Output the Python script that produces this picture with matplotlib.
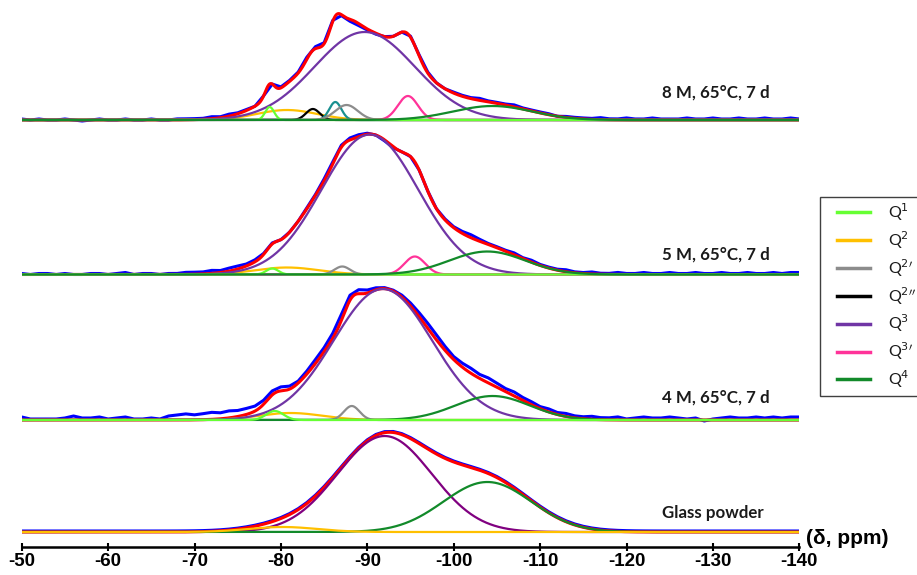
import numpy as np
import matplotlib
matplotlib.use("Agg")
import matplotlib.pyplot as plt
from matplotlib.lines import Line2D
from matplotlib.patches import Rectangle

# ---------------- data ----------------
ppm_ticks = [-50, -60, -70, -80, -90, -100, -110, -120, -130, -140]
panel_labels = ["8 M, 65°C, 7 d", "5 M, 65°C, 7 d", "4 M, 65°C, 7 d", "Glass powder"]

# Gaussian components: species, centre (ppm), height, width (sigma, ppm)
p8_species = ["Q2", "Q2pp", "Qt", "Q2p", "Q3", "Q3p", "Q1", "Q4"]
p8_center = [-80.7, -83.7, -86.3, -87.6, -89.7, -94.7, -78.7, -104.5]
p8_height = [10, 11, 18, 15, 88, 24, 13, 14]
p8_width = [3.5, 0.8, 0.7, 1.3, 5.8, 1.16, 0.52, 4.6]

p5_species = ["Q2", "Q2p", "Q3", "Q3p", "Q1", "Q4"]
p5_center = [-80.7, -87.1, -90.3, -95.5, -79.0, -103.9]
p5_height = [7, 8, 140, 18, 6, 23]
p5_width = [3.7, 0.9, 5.6, 1.2, 0.7, 4.4]

p4_species = ["Q2", "Q2p", "Q3", "Q4", "Q1"]
p4_center = [-81.1, -88.2, -91.8, -104.5, -79.3]
p4_height = [7, 14, 131, 24, 9]
p4_width = [3.7, 0.9, 5.7, 4.3, 1.0]

pg_species = ["Q3", "Q4", "Q2"]
pg_center = [-92.0, -103.9, -80.2]
pg_height = [96, 50, 5]
pg_width = [5.45, 5.1, 4.0]

# experimental spectrum = fit + residual, residual sampled every 1 ppm from -50 to -140
resid_ppm = list(range(-50, -141, -1))
p8_resid = ([1, 0, 1, 0, 0, 1, 0, -1, 0, 1, 0, 0, 1, 0, 0, 1, 0, 0, 1, 1]
            + [1, 1, 2, 1, 2, 1, 1, 0] + [0, 0, 1, 1, 1] + [2, 2, 1, 1, -1, -2]
            + [-2, -1, -1, 0, 0, 0, 1] + [1, 1, 0, 0, 1, 1, 1, 2, 1, 1]
            + [1, 2, 1, 1, 1, 1, 0, 1, 1, 1]
            + [1, 2, 1, 1, 2, 1, 1, 2, 1, 1, 1, 2, 1, 1, 2, 1, 1, 2, 1, 1, 2, 1, 1, 2, 1])
p5_resid = ([1, 0, 1, 1, 0, 1, 0, 0, 1, 1, 0, 1, 2, 0, 1, 1, 0, 1, 1, 2]
            + [2, 2, 3, 2, 3, 3, 2, 2] + [1, 1, 0, 0, 0] + [1, 1, 2, 2, 2, 2]
            + [2, 1, 0, -1, -1, 0, 0] + [0, 0, 0, 1, 1, 2, 3, 2, 1, 1]
            + [1, 2, 1, 2, 1, 1, 1, 2, 1, 1]
            + [2, 1, 1, 2, 1, 1, 2, 1, 1, 2, 1, 1, 2, 1, 1, 2, 1, 1, 2, 1, 1, 2, 1, 2, 2])
p4_resid = ([3, 1, 1, 1, 1, 2, 4, 2, 2, 3, 1, 2, 3, 1, 1, 2, 1]
            + [4, 5, 6, 5, 6, 7, 6, 7, 6] + [6, 5, 4, 4, 4] + [3, 2, 3, 4, 4]
            + [5, 6, 5, 4, 3] + [2, 1, 1, 2, 3] + [4, 5, 5, 4, 3, 4, 5]
            + [4, 5, 4, 3, 4, 3, 3, 2]
            + [3, 2, 3, 2, 2, 3, 2, 2, 3, 1, 2, 3, 2, 2, 3, 2, 1, 2, -1, 1,
               2, 3, 2, 2, 3, 2, 3, 2, 3, 3])
pg_resid = [1] * 91

legend_species = ["Q1", "Q2", "Q2p", "Q2pp", "Q3", "Q3p", "Q4"]
legend_labels = [r"Q$^{1}$", r"Q$^{2}$", r"Q$^{2\prime}$", r"Q$^{2\prime\prime}$",
                 r"Q$^{3}$", r"Q$^{3\prime}$", r"Q$^{4}$"]

# ---------------- styling / layout ----------------
colors = {"Q1": "#66ff33", "Q2": "#ffc000", "Q2p": "#8c8c8c", "Q2pp": "#000000",
          "Q3": "#7035a5", "Q3p": "#ff3399", "Q4": "#128a2a", "Qt": "#1a9090"}
glass_q3_color = "#800080"
baselines = [427, 272.5, 127, 15]
label_dy = [27, 19.5, 22, 19]
label_x = -124.1

panels = [
    (p8_species, p8_center, p8_height, p8_width, p8_resid),
    (p5_species, p5_center, p5_height, p5_width, p5_resid),
    (p4_species, p4_center, p4_height, p4_width, p4_resid),
    (pg_species, pg_center, pg_height, pg_width, pg_resid),
]

W, H = 917, 575
fig = plt.figure(figsize=(W / 100, H / 100), dpi=100)
x0, x1 = 21.7, 799.3
ax = fig.add_axes([x0 / W, 28 / H, (x1 - x0) / W, (H - 28) / H])
ax.set_xlim(-50, -140)
ax.set_ylim(0, 547)

xf = np.linspace(-50, -140, 1801)
xr = np.array(resid_ppm, dtype=float)


def gauss(x, c, h, w):
    return h * np.exp(-0.5 * ((x - c) / w) ** 2)


for i, (sp, cen, hei, wid, res) in enumerate(panels):
    b = baselines[i]
    fit_f = np.zeros_like(xf)
    fit_r = np.zeros_like(xr)
    for c, h, w in zip(cen, hei, wid):
        fit_f += gauss(xf, c, h, w)
        fit_r += gauss(xr, c, h, w)
    ax.plot(xr, b + fit_r + np.array(res), color="#0000ff", lw=2.2, zorder=2)
    ax.plot(xf, b + fit_f, color="#ff0000", lw=2.2, zorder=3)
    for s, c, h, w in zip(sp, cen, hei, wid):
        col = colors[s]
        if i == 3 and s == "Q3":
            col = glass_q3_color
        ax.plot(xf, b + gauss(xf, c, h, w), color=col, lw=1.6, zorder=4)
    ax.text(label_x, b + label_dy[i], panel_labels[i], fontsize=12.2,
            fontweight="bold", family="Lato", ha="left", va="center", color="#1a1a1a")

for s in ["top", "left", "right"]:
    ax.spines[s].set_visible(False)
ax.spines["bottom"].set_linewidth(1.8)
ax.set_yticks([])
ax.set_xticks(ppm_ticks)
ax.set_xticklabels([str(t) for t in ppm_ticks],
                   fontdict={"family": "Liberation Sans", "weight": "bold", "size": 13.5})
ax.tick_params(axis="x", direction="inout", length=6, width=1.5, pad=1)

fig.text(806 / W, 1 - 538 / H, "(δ, ppm)", family="Liberation Sans",
         fontweight="bold", fontsize=15, ha="left", va="center")

# legend box (right edge runs off the figure, as in the reference)
fig.add_artist(Rectangle((820 / W, 1 - 396 / H), 120 / W, 199 / H,
                         transform=fig.transFigure, facecolor="white",
                         edgecolor="#404040", lw=1.0))
row_y0, row_dy = 212, 27.9
for k, (s, lab) in enumerate(zip(legend_species, legend_labels)):
    yy = 1 - (row_y0 + k * row_dy) / H
    fig.add_artist(Line2D([837 / W, 870 / W], [yy, yy], transform=fig.transFigure,
                          color=colors[s], lw=2.5))
    fig.text(888 / W, yy, lab, family="Lato", fontsize=11.5, ha="left", va="center",
             color="#1a1a1a")

fig.savefig("out.png", dpi=100)
